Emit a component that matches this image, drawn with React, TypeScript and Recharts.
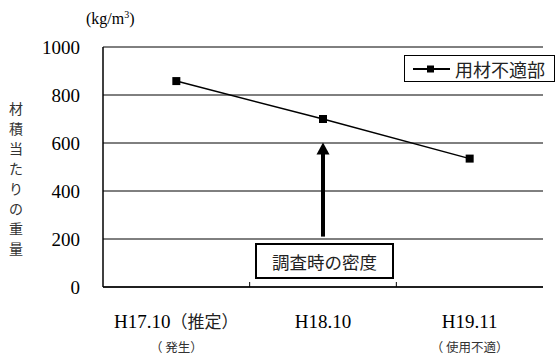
import React from "react";
import {
  LineChart,
  Line,
  XAxis,
  YAxis,
  CartesianGrid,
  ReferenceLine,
} from "recharts";

const periods = ["H17.10", "H18.10", "H19.11"];
const qualifiers = ["（推定）", "", ""];
const subLabels = ["（ 発生）", "", "（ 使用不適）"];
const density = [858, 700, 535];
const yTicks = [0, 200, 400, 600, 800, 1000];
const seriesName = "用材不適部";
const yTitle = "材積当たりの重量";
const noteText = "調査時の密度";
const arrowFrom = 210;
const arrowTo = 602;

const data = periods.map((p, i) => ({ period: p, density: density[i] }));

const SERIF = '"Liberation Serif", "Times New Roman", serif';
const CJK = '"Noto Sans CJK JP", "Noto Sans", sans-serif';

function PeriodTick(props: any) {
  const { x, y, payload, index } = props;
  const i = periods.indexOf(payload.value);
  const half = payload.offset || 0;
  return (
    <g>
      {index > 0 && half > 0 && (
        <line x1={x - half} x2={x - half} y1={y} y2={y - 5} stroke="#000" />
      )}
      <text x={x} y={y + 41} textAnchor="middle" fill="#000">
        <tspan fontFamily={SERIF} fontSize={19}>
          {payload.value}
        </tspan>
        {qualifiers[i] && (
          <tspan fontFamily={CJK} fontSize={17} fill="#222">
            {qualifiers[i]}
          </tspan>
        )}
      </text>
      {subLabels[i] && (
        <text
          x={x}
          y={y + 65}
          textAnchor="middle"
          fontFamily={CJK}
          fontSize={12.5}
          fill="#333"
        >
          {subLabels[i]}
        </text>
      )}
    </g>
  );
}

function SquareDot(props: any) {
  const { cx, cy } = props;
  return <rect x={cx - 4} y={cy - 4} width={8} height={8} fill="#000" />;
}

function UpArrow(props: any) {
  const { x1, y1, x2, y2 } = props;
  const top = Math.min(y1, y2);
  const bottom = Math.max(y1, y2);
  return (
    <g>
      <line x1={x1} x2={x2} y1={bottom} y2={top + 10} stroke="#000" strokeWidth={4} />
      <polygon
        points={`${x2},${top} ${x2 - 6.5},${top + 12} ${x2 + 6.5},${top + 12}`}
        fill="#000"
      />
    </g>
  );
}

function LegendBox() {
  return (
    <div
      style={{
        position: "absolute",
        left: 404,
        top: 55,
        border: "1px solid #000",
        background: "#fff",
        height: 27,
        width: 151,
        boxSizing: "border-box",
        display: "flex",
        alignItems: "center",
      }}
    >
      <svg width={50} height={24}>
        <line x1={8} x2={45} y1={12} y2={12} stroke="#000" strokeWidth={2} />
        <rect x={22} y={8.5} width={7} height={7} fill="#000" />
      </svg>
      <span style={{ fontFamily: CJK, fontSize: 18, color: "#222", lineHeight: "24px" }}>
        {seriesName}
      </span>
    </div>
  );
}

export default function App() {
  return (
    <div
      style={{
        position: "absolute",
        left: 0,
        top: 0,
        width: 555,
        height: 356,
        background: "#fff",
        fontFamily: SERIF,
      }}
    >
      <div
        style={{
          position: "absolute",
          left: 86,
          top: 9,
          fontSize: 16,
          fontFamily: SERIF,
          color: "#000",
        }}
      >
        (kg/m<sup style={{ fontSize: 10 }}>3</sup>)
      </div>
      <div
        style={{
          position: "absolute",
          left: 8,
          top: 98,
          width: 16,
          fontFamily: CJK,
          fontSize: 14,
          lineHeight: "20px",
          color: "#333",
          textAlign: "center",
        }}
      >
        {yTitle.split("").map((c, i) => (
          <div key={i}>{c}</div>
        ))}
      </div>
      <LineChart
        width={555}
        height={356}
        data={data}
        margin={{ top: 47, right: 12, bottom: 0, left: 43 }}
      >
        <CartesianGrid vertical={false} stroke="#000" />
        <XAxis
          dataKey="period"
          scale="band"
          height={69}
          axisLine={{ stroke: "#000", strokeWidth: 1.5 }}
          tickLine={false}
          tickSize={0}
          tickMargin={0}
          interval={0}
          tick={<PeriodTick />}
        />
        <YAxis
          domain={[0, 1000]}
          ticks={yTicks}
          width={60}
          axisLine={{ stroke: "#000", strokeWidth: 1.5 }}
          tickLine={false}
          tickSize={0}
          tickMargin={23}
          tick={{ fontFamily: SERIF, fontSize: 19, fill: "#000" }}
        />
        <YAxis
          yAxisId="frame"
          orientation="right"
          width={0}
          tick={false}
          tickLine={false}
          axisLine={{ stroke: "#000" }}
        />
        <ReferenceLine
          segment={[
            { x: periods[1], y: arrowFrom },
            { x: periods[1], y: arrowTo },
          ]}
          shape={<UpArrow />}
        />
        <Line
          type="linear"
          dataKey="density"
          name={seriesName}
          stroke="#000"
          strokeWidth={1.5}
          dot={<SquareDot />}
          activeDot={false}
          isAnimationActive={false}
        />
      </LineChart>
      <LegendBox />
      <div
        style={{
          position: "absolute",
          left: 255,
          top: 243,
          width: 139,
          height: 36,
          boxSizing: "border-box",
          border: "2px solid #000",
          background: "#fff",
          display: "flex",
          alignItems: "center",
          justifyContent: "center",
          fontFamily: CJK,
          fontSize: 17.5,
          color: "#222",
        }}
      >
        {noteText}
      </div>
    </div>
  );
}
